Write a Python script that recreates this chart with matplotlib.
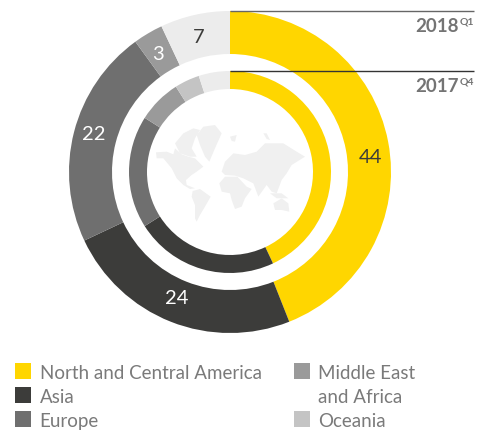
import math

import matplotlib
matplotlib.use("Agg")
import matplotlib.pyplot as plt
from matplotlib.patches import Polygon, Rectangle

W, H = 489, 430

regions = ["North and Central America", "Asia", "Europe", "Middle East\nand Africa", "Oceania", "Other"]
colors = ["#ffd600", "#3c3c3a", "#6f6f6f", "#9a9a9a", "#c4c4c4", "#ececec"]
values_2018 = [44, 24, 22, 3, 0, 7]
values_2017 = [43, 23, 18, 7, 4, 5]
labels_2018 = ["44", "24", "22", "3", "", "7"]
label_colors = ["#3c3c3a", "#ffffff", "#ffffff", "#ffffff", "#3c3c3a", "#3c3c3a"]
label_nudge = [(3, -12), (-2, 3), (-1, 3), (-1, -3), (0, 0), (-1, -2)]

# world map silhouette, rough outlines traced from a 3x crop at (150, 115)
continents = [
    [(18, 112), (50, 110), (70, 118), (75, 100), (95, 118), (115, 125), (135, 130), (160, 155), (140, 170), (125, 180), (108, 195), (110, 210), (135, 220), (120, 222), (100, 210), (80, 190), (65, 160), (40, 130), (20, 130)],
    [(75, 85), (100, 55), (130, 40), (150, 45), (135, 70), (125, 100), (140, 125), (120, 125), (90, 115)],
    [(140, 60), (160, 35), (195, 30), (215, 55), (195, 100), (178, 140), (165, 125), (150, 90)],
    [(128, 228), (150, 222), (182, 245), (165, 275), (150, 300), (140, 320), (135, 310), (135, 270), (125, 245)],
    [(208, 205), (225, 185), (262, 185), (290, 215), (305, 222), (285, 250), (275, 275), (255, 282), (245, 255), (240, 235), (215, 230)],
    [(215, 170), (225, 140), (250, 115), (285, 120), (320, 110), (345, 85), (400, 85), (440, 110), (465, 125), (425, 150), (410, 175), (395, 195), (380, 235), (365, 230), (350, 210), (325, 245), (310, 205), (280, 190), (255, 182), (225, 180)],
    [(360, 235), (395, 235), (415, 250), (380, 250)],
    [(370, 265), (395, 250), (415, 265), (418, 290), (395, 285), (375, 285)],
    [(240, 65), (260, 60), (255, 80), (245, 78)],
    [(340, 55), (350, 55), (360, 75), (350, 72)],
]
land_color = "#f0f0f0"

year_rows = [("2018", "Q1", 11, 26), ("2017", "Q4", 71, 86)]
plt.rcParams["font.family"] = ["Lato", "DejaVu Sans"]


def flip(y):
    return H - y


fig = plt.figure(figsize=(W / 100, H / 100), dpi=100)
ax = fig.add_axes([0, 0, 1, 1])
cx, cy = 230, flip(172)

ax.pie(values_2018, colors=colors, startangle=90, counterclock=False, center=(cx, cy),
       radius=161, wedgeprops={"width": 43, "linewidth": 0}, frame=True)
ax.pie(values_2017, colors=colors, startangle=90, counterclock=False, center=(cx, cy),
       radius=101, wedgeprops={"width": 18, "linewidth": 0}, frame=True)
ax.set_xlim(0, W)
ax.set_ylim(0, H)
ax.set_aspect("equal")
ax.axis("off")

for pts in continents:
    ax.add_patch(Polygon([(150 + x / 3, flip(115 + y / 3)) for x, y in pts], closed=True, fc=land_color, ec="none"))

# value labels sit in the middle of the outer ring
start = 0
for val, txt, col, (nx, ny) in zip(values_2018, labels_2018, label_colors, label_nudge):
    mid = (start + val / 2) / 100 * 2 * math.pi
    start += val
    if not txt:
        continue
    ax.text(cx + 139.5 * math.sin(mid) + nx, cy + 139.5 * math.cos(mid) + ny, txt, color=col,
            fontsize=14.5, ha="center", va="center")

for year, quarter, line_y, text_y in year_rows:
    ax.plot([230, 474], [flip(line_y)] * 2, color="#666666" if year == "2018" else "#333333",
            lw=1, solid_capstyle="butt")
    ax.text(459, flip(text_y), year, color="#747474", fontsize=13.5, fontweight="bold", ha="right", va="center")
    ax.text(474, flip(text_y - 4), quarter, color="#747474", fontsize=7.5, fontweight="bold", ha="right", va="center")

# legend
legend_rows = [
    (0, 15, 372), (1, 15, 396), (2, 15, 420),
    (3, 294, 372), (4, 294, 420),
]
for idx, x, y in legend_rows:
    ax.add_patch(Rectangle((x, flip(y + 7)), 16, 16, fc=colors[idx], ec="none"))
    lines = regions[idx].split("\n")
    for k, line in enumerate(lines):
        ax.text(x + 24.5, flip(y + 1.5 + k * 24), line, color="#7a7a7a", fontsize=13.5, ha="left", va="center")

fig.savefig("out.png", dpi=100)
